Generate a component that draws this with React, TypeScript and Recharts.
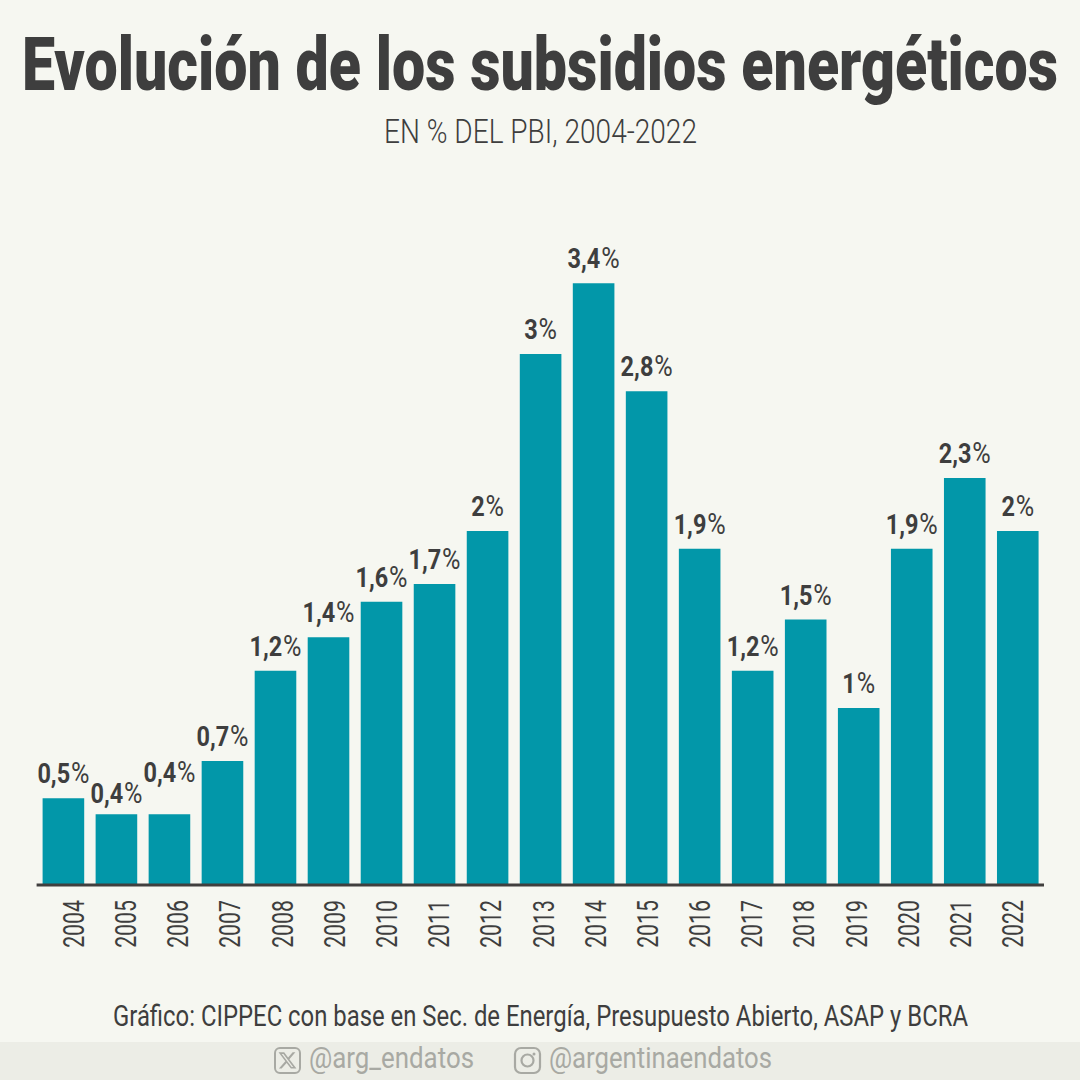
import React from 'react';
import { BarChart, Bar, XAxis, YAxis, LabelList } from 'recharts';

const YEARS = [
  '2004', '2005', '2006', '2007', '2008', '2009', '2010', '2011', '2012', '2013',
  '2014', '2015', '2016', '2017', '2018', '2019', '2020', '2021', '2022',
];
// bar heights
const SUBSIDIES = [
  0.49, 0.4, 0.4, 0.7, 1.21, 1.4, 1.6, 1.7, 2, 3, 3.4, 2.79, 1.9, 1.21, 1.5, 1, 1.9, 2.3, 2,
];
const VALUE_LABELS = [
  '0,5%', '0,4%', '0,4%', '0,7%', '1,2%', '1,4%', '1,6%', '1,7%', '2%', '3%',
  '3,4%', '2,8%', '1,9%', '1,2%', '1,5%', '1%', '1,9%', '2,3%', '2%',
];

const TITLE = 'Evolución de los subsidios energéticos';
const SUBTITLE = 'EN % DEL PBI, 2004-2022';
const SOURCE = 'Gráfico: CIPPEC con base en Sec. de Energía, Presupuesto Abierto, ASAP y BCRA';
const HANDLE_X = '@arg_endatos';
const HANDLE_IG = '@argentinaendatos';

const chartData = YEARS.map((year, i) => ({ year, value: SUBSIDIES[i] }));

const BG = '#f6f7f1';
const BAR = '#0297a9';
const INK = '#3e3e3e';
const MUTED = '#a8a9a3';
const FONT = 'Roboto, sans-serif';

// the 2005 and 2006 labels are nudged apart so they don't collide
const LABEL_NUDGE: Record<number, number> = { 1: 4, 2: -17 };

const ValueLabel = (props: any) => {
  const { x, y, width, index } = props;
  const label = VALUE_LABELS[index];
  const cx = Number(x) + Number(width) / 2;
  const baseline = Number(y) - 15 + (LABEL_NUDGE[index] || 0);
  return (
    <text
      transform={`translate(${cx} ${baseline}) scale(0.84 1)`}
      textAnchor="middle"
      fontFamily={FONT}
      fontSize={28}
      fill={INK}
    >
      <tspan fontWeight={700}>{label.slice(0, -1)}</tspan>
      <tspan fontWeight={400} fontSize={30} dx={1}>%</tspan>
    </text>
  );
};

const YearTick = (props: any) => {
  const { x, payload } = props;
  return (
    <text
      transform={`translate(${Number(x) + 11} 900) rotate(-90) scale(0.71 1)`}
      textAnchor="end"
      fontFamily={FONT}
      fontWeight={400}
      fontSize={30}
      fill={INK}
    >
      {payload.value}
    </text>
  );
};

// condensed look: squeeze the text, then pin it to the width seen in the reference
const FitText = ({ x, y, w, squeeze, size, weight, fill, children }: any) => (
  <text
    transform={`translate(${x} ${y}) scale(${squeeze} 1)`}
    textLength={w / squeeze}
    lengthAdjust="spacingAndGlyphs"
    fontFamily={FONT}
    fontWeight={weight}
    fontSize={size}
    fill={fill}
  >
    {children}
  </text>
);

const Header = () => (
  <svg width={1080} height={1080} style={{ position: 'absolute', left: 0, top: 0 }}>
    <rect x={0} y={1042} width={1080} height={38} fill="#ecede6" />
    <FitText x={22} y={90} w={1036} squeeze={0.74} size={75} weight={900} fill={INK}>{TITLE}</FitText>
    <FitText x={384} y={143} w={313} squeeze={0.85} size={34} weight={300} fill={INK}>{SUBTITLE}</FitText>
    <FitText x={113} y={1026} w={855} squeeze={0.78} size={29} weight={400} fill={INK}>{SOURCE}</FitText>
    <FitText x={309} y={1068} w={165} squeeze={0.8} size={29} weight={400} fill={MUTED}>{HANDLE_X}</FitText>
    <FitText x={549} y={1068} w={223} squeeze={0.8} size={29} weight={400} fill={MUTED}>{HANDLE_IG}</FitText>
    {/* X icon */}
    <rect x={275} y={1048} width={25} height={25} rx={5} fill="none" stroke={MUTED} strokeWidth={2} />
    <path
      transform="translate(277.5 1050.5) scale(0.83)"
      fill={MUTED}
      d="M18.244 2.25h3.308l-7.227 8.26 8.502 11.24H16.17l-5.214-6.817L4.99 21.75H1.68l7.73-8.835L1.254 2.25H8.08l4.713 6.231zm-1.161 17.52h1.833L7.084 4.126H5.117z"
    />
    {/* Instagram icon */}
    <rect x={515} y={1048} width={25} height={25} rx={6} fill="none" stroke={MUTED} strokeWidth={2.2} />
    <circle cx={527.5} cy={1060.5} r={6} fill="none" stroke={MUTED} strokeWidth={2.2} />
    <circle cx={534} cy={1054} r={1.5} fill={MUTED} />
  </svg>
);

export default function App() {
  return (
    <div style={{ position: 'absolute', left: 0, top: 0, width: 1080, height: 1080, background: BG, overflow: 'hidden' }}>
      <Header />
      <div style={{ position: 'absolute', left: 0, top: 0 }}>
        <BarChart
          width={1080}
          height={1080}
          data={chartData}
          margin={{ top: 177, right: 36, bottom: 135, left: 36.6 }}
        >
          <YAxis hide domain={[0, 4]} />
          <XAxis xAxisId="bars" dataKey="year" hide height={0} />
          {/* tick labels sit on a slightly tighter spacing than the bars */}
          <XAxis
            xAxisId="years"
            dataKey="year"
            height={60}
            interval={0}
            padding={{ left: 10.3, right: 5.9 }}
            tickLine={false}
            axisLine={{ stroke: '#403f3e', strokeWidth: 3 }}
            tick={<YearTick />}
          />
          <Bar xAxisId="bars" dataKey="value" fill={BAR} barSize={41.6} isAnimationActive={false}>
            <LabelList dataKey="value" content={<ValueLabel />} />
          </Bar>
        </BarChart>
      </div>
    </div>
  );
}
